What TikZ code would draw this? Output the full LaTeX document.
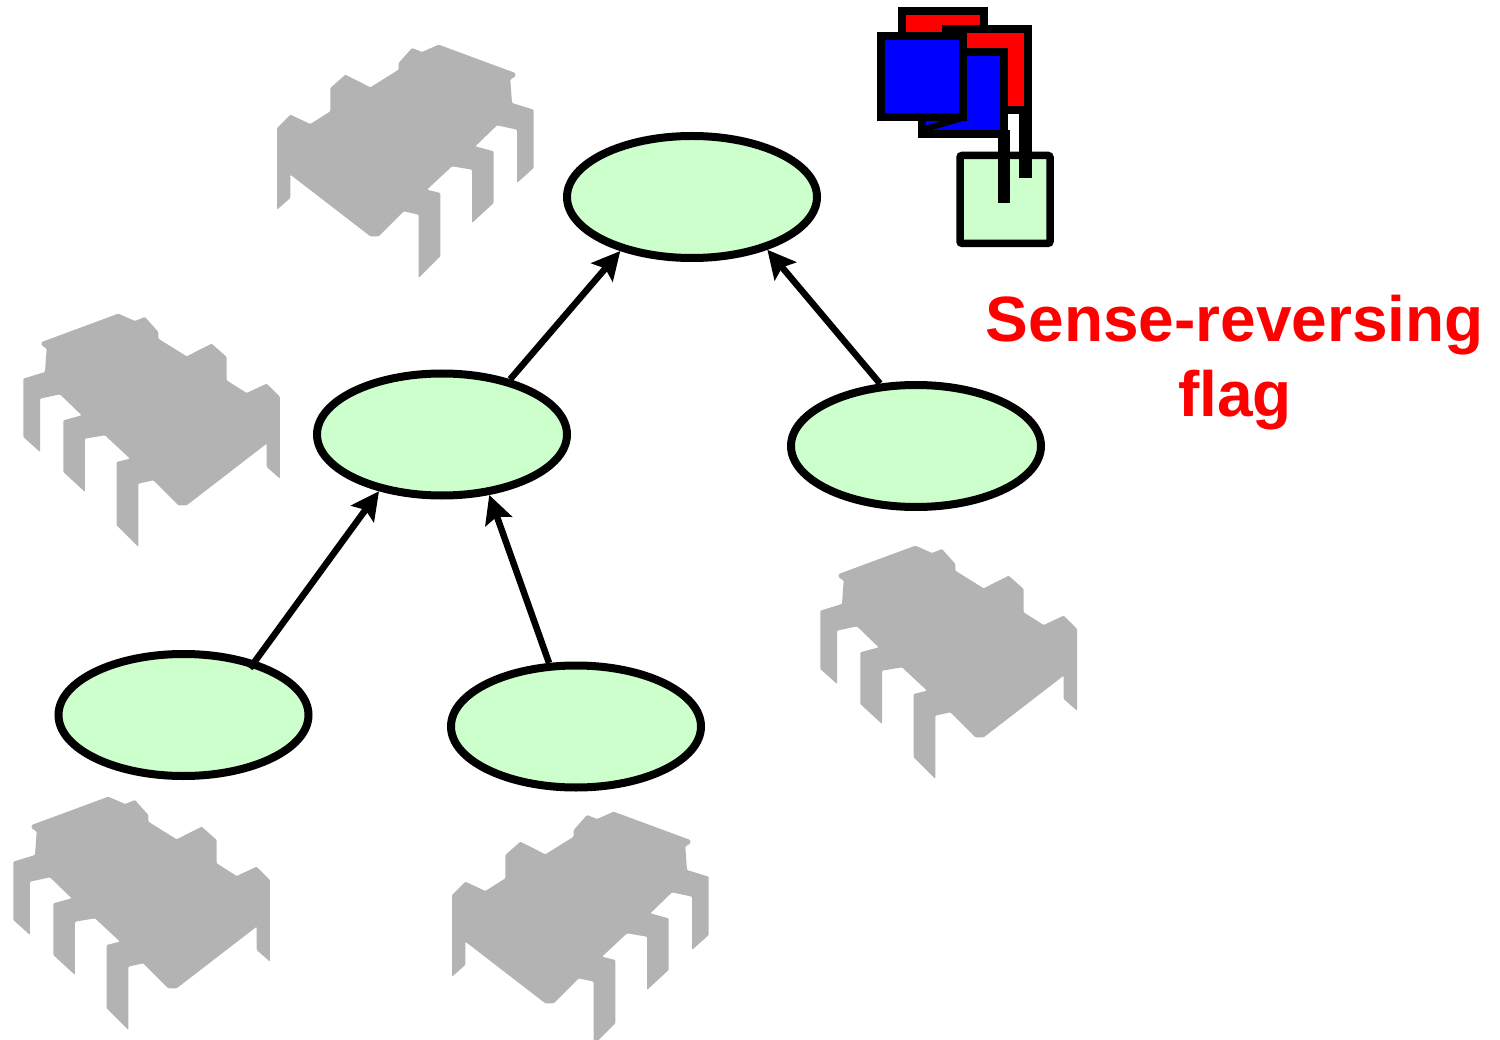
\documentclass[tikz,border=0pt]{standalone}
\usepackage{fontspec}
\setmainfont{Liberation Sans}
\usetikzlibrary{arrows.meta,shapes.geometric}
\definecolor{chipgray}{RGB}{179,179,179}
\definecolor{nodegreen}{RGB}{204,255,204}
\definecolor{flagred}{RGB}{255,0,0}
\definecolor{flagblue}{RGB}{0,0,255}
\begin{document}
\begin{tikzpicture}[x=1pt,y=-1pt,
  treenode/.style={ellipse,draw=black,line width=8pt,fill=nodegreen,
    minimum width=250pt,minimum height=122pt,inner sep=0pt},
  uparrow/.style={line width=6.5pt,-{Stealth[length=28pt,width=28pt,inset=5pt]}},
  flagbox/.style={draw=black,line width=8pt,line join=miter},
  caption/.style={text=flagred,font=\bfseries\fontsize{64}{75}\selectfont,inner sep=0pt,anchor=base},
  chipB/.pic={
    \fill[chipgray,rounded corners=1pt]
      (65,105) -- (295,20) -- (345,42) -- (375,30) -- (415,75) -- (415,95)
      -- (500,148) -- (575,110) -- (620,150) -- (620,220) -- (680,258)
      -- (740,230) -- (780,270) -- (780,515) -- (740,480) -- (740,410)
      -- (500,595) -- (475,595) -- (400,520) -- (355,530) -- (355,720)
      -- (290,655) -- (290,465) -- (330,455) -- (255,385) -- (195,395)
      -- (195,555) -- (130,495) -- (130,340) -- (185,325) -- (120,262)
      -- (60,275) -- (60,435) -- (10,390) -- (10,215) -- (75,195)
      -- (80,125) -- (65,115) -- cycle;
  }]
\useasboundingbox (0,0) rectangle (1500,1040);

% processors (chips), two facing each way
\pic[scale=1/3] at (10,790) {chipB};
\pic[scale=1/3] at (20,307) {chipB};
\pic[scale=1/3] at (817,539) {chipB};
\pic[xscale=-1/3,yscale=1/3] at (537,38) {chipB};
\pic[xscale=-1/3,yscale=1/3] at (712,805) {chipB};

% combining tree
\node[treenode] (root) at (692,197) {};
\node[treenode] (midL) at (442,434.5) {};
\node[treenode] (midR) at (916,446) {};
\node[treenode] (botL) at (183.5,715) {};
\node[treenode] (botM) at (576,726.5) {};

\draw[uparrow] (midL.39.7) -- (root.217.1);
\draw[uparrow] (midR.120.1) -- (root.325.5);
\draw[uparrow,shorten <=-9pt] (botL.37.4) -- (midL.222.8);
\draw[uparrow] (botM.113) -- (midL.308.7);

% sense-reversing flag
\draw[draw=black,line width=7.5pt,fill=nodegreen,rounded corners=2pt]
  (960,155.5) rectangle (1050,243.3);
\draw[flagbox,fill=flagred] (902,11) rectangle (984,93);
\draw[flagbox,fill=flagred] (946,29) rectangle (1028,110);
\fill[black] (1019,106) rectangle (1032,178);
\draw[flagbox,fill=flagblue] (922,52) rectangle (1004,134);
\fill[black] (998,130) rectangle (1010,203);
\draw[flagbox,fill=flagblue] (881,36) rectangle (963,117);
\draw[black,line width=6pt] (925,129) -- (966,117);

\node[caption] (senseA) at (1235,342) {Sense-reversing};
\node[caption] (senseB) at (1235,417) {flag};
\end{tikzpicture}
\end{document}
